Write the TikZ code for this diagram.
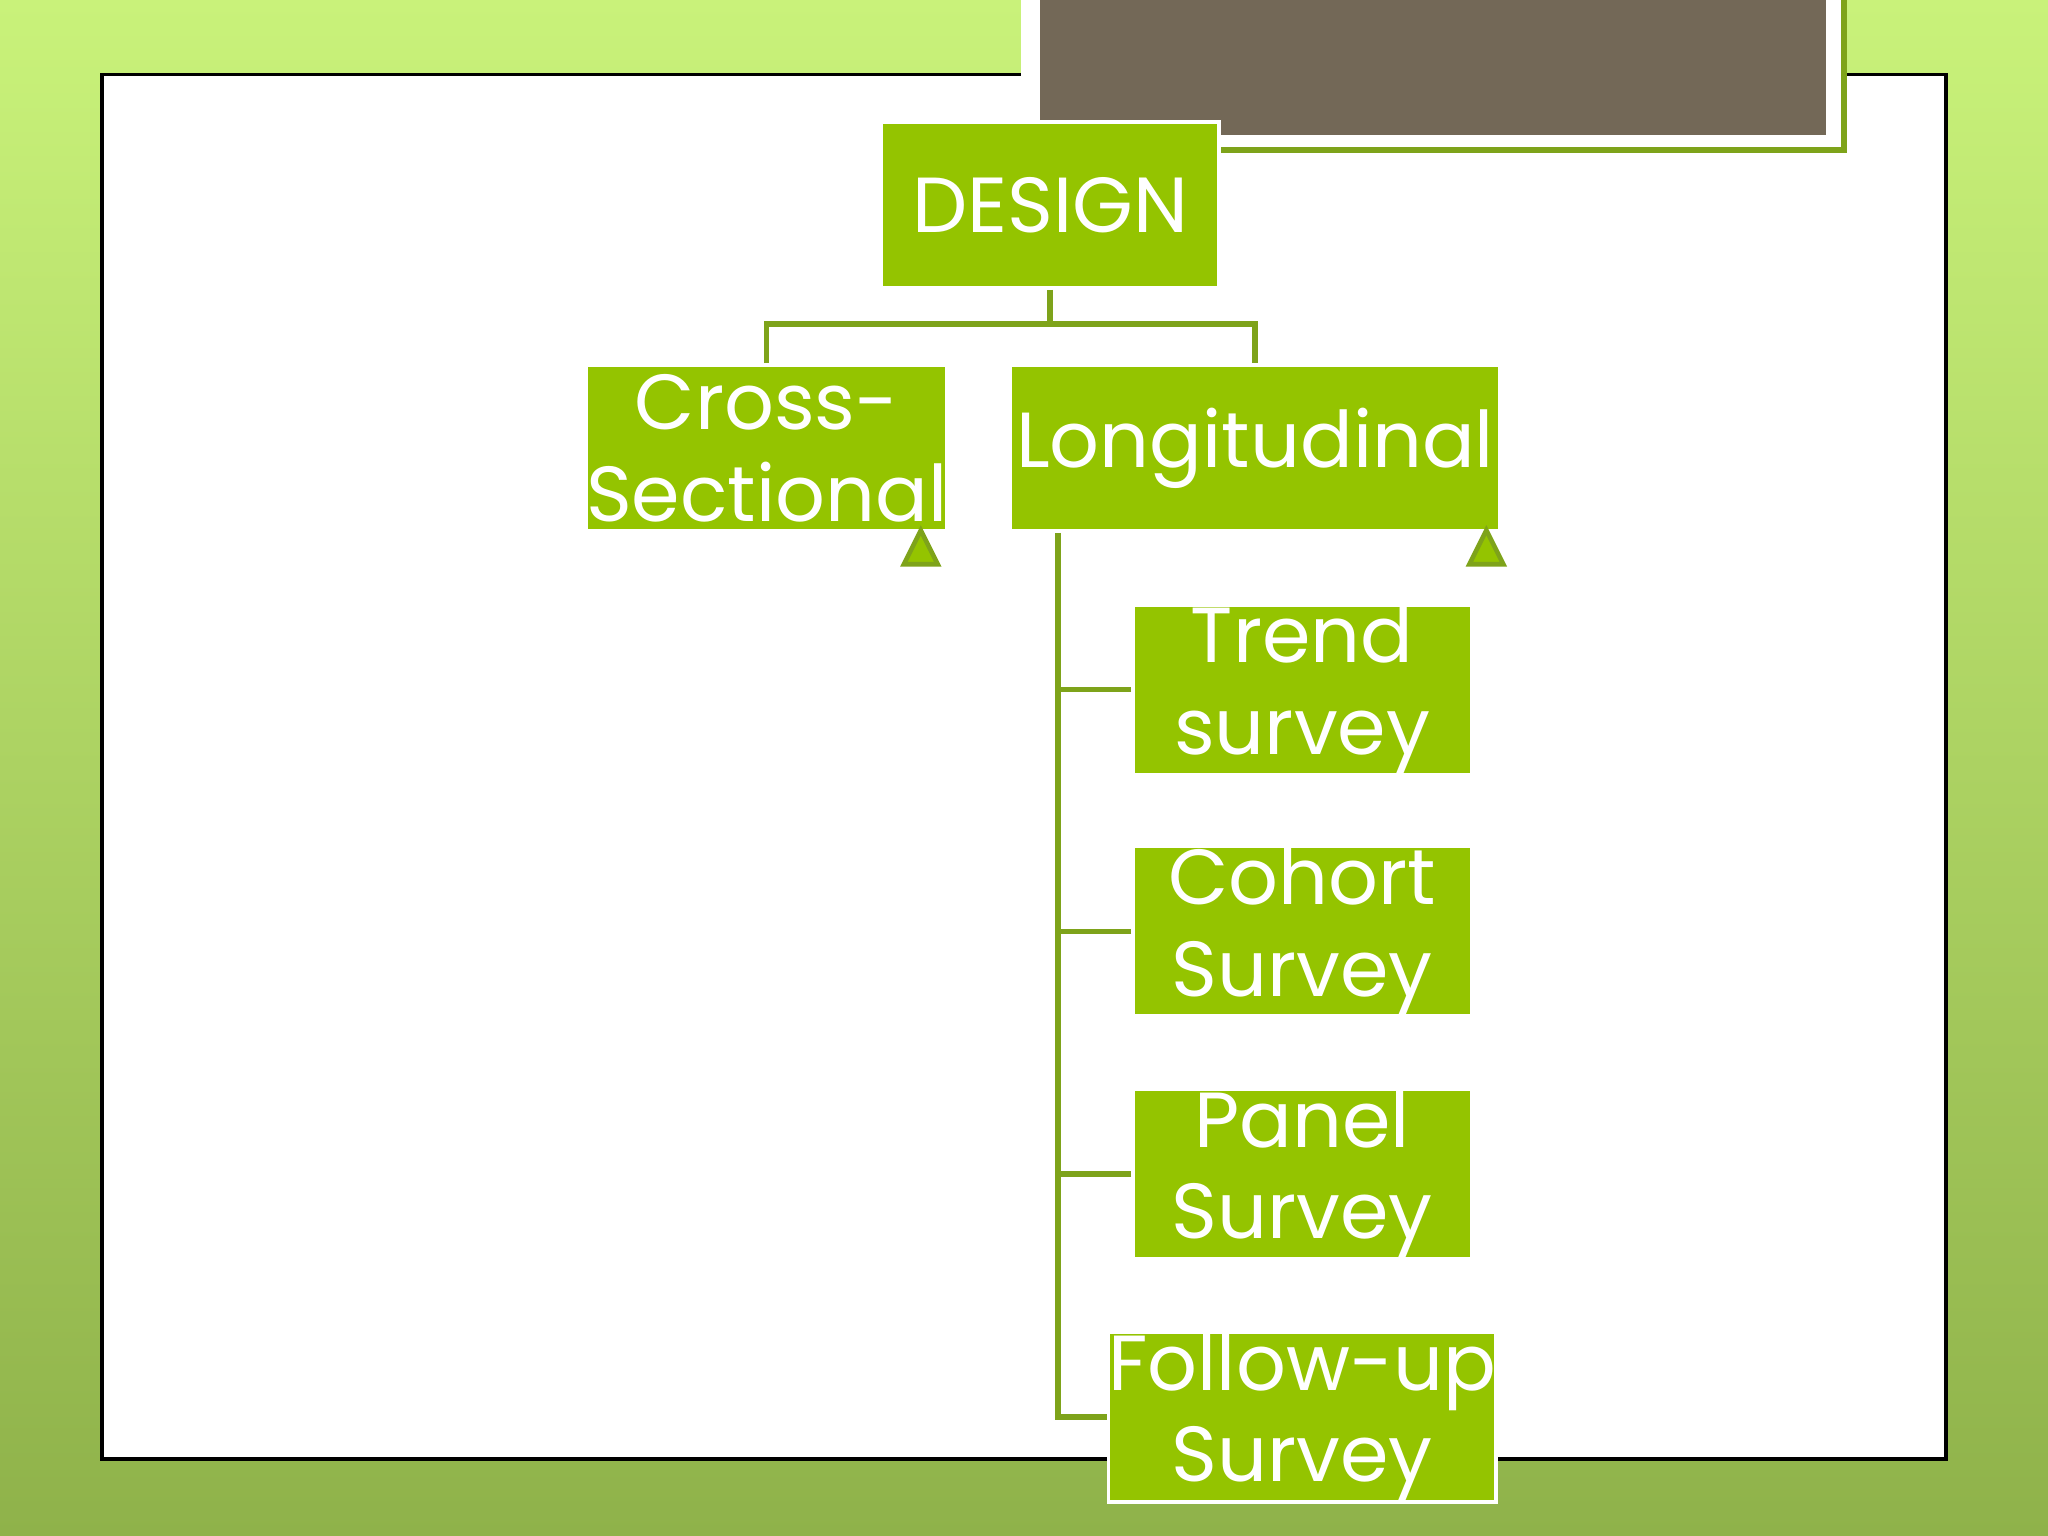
\documentclass[tikz,border=0pt]{standalone}
\usepackage{fontspec}
\setmainfont{Poppins}
\definecolor{boxg}{HTML}{94C400}
\definecolor{lineg}{HTML}{7EA31A}
\definecolor{titleb}{HTML}{736857}
\definecolor{bgtop}{HTML}{C9F27A}
\definecolor{bgbot}{HTML}{8FB24A}
\begin{document}
\begin{tikzpicture}[x=0.01cm,y=-0.01cm,
  gbox/.style={fill=boxg,draw=white,line width=0.8pt,text=white,align=center,inner sep=0pt,font=\fontsize{17}{20}\selectfont},
  conn/.style={draw=lineg,line width=1.2pt}]
\useasboundingbox (0,0) rectangle (1568,1176);
\shade[top color=bgtop,bottom color=bgbot] (0,0) rectangle (1568,1176);
\fill[white] (78,57) rectangle (1490,1117);
\draw[black,line width=0.8pt] (782,57) -- (78,57) -- (78,1117) -- (1490,1117) -- (1490,57) -- (1412,57);
\fill[white] (782,0) rectangle (1412,115);
\fill[titleb] (796,0) rectangle (1398,103);
\draw[lineg,line width=1.2pt] (935,115) -- (1412,115) -- (1412,0);
\node[gbox,minimum width=2.58cm,minimum height=1.27cm] (design) at (804,157) {DESIGN};
\node[gbox,minimum width=2.58cm,minimum height=1.27cm] (cross) at (587,343) {Cross-\\Sectional};
\node[gbox,minimum width=3.75cm,minimum height=1.27cm] (long) at (961,343) {Longitudinal};
\node[gbox,minimum width=2.59cm,minimum height=1.27cm] (trend) at (997,528) {Trend\\survey};
\node[gbox,minimum width=2.59cm,minimum height=1.27cm] (cohort) at (997,713) {Cohort\\Survey};
\node[gbox,minimum width=2.59cm,minimum height=1.27cm] (panel) at (997,899) {Panel\\Survey};
\node[gbox,minimum width=2.59cm,minimum height=1.29cm] (follow) at (997,1085) {Follow-up\\Survey};
\coordinate (j) at (804,248);
\draw[conn] (design.south) -- (j);
\draw[conn] (cross.north) |- (j) -| (long.north);
\coordinate (v) at (810,408);
\draw[conn] (v) |- (follow.west);
\draw[conn] (trend.west) -- (trend.west -| v);
\draw[conn] (cohort.west) -- (cohort.west -| v);
\draw[conn] (panel.west) -- (panel.west -| v);
\foreach \x in {705,1138}
  \draw[fill=boxg,draw=lineg,line width=1pt] (\x-13,432) -- (\x,406) -- (\x+13,432) -- cycle;
\end{tikzpicture}
\end{document}
